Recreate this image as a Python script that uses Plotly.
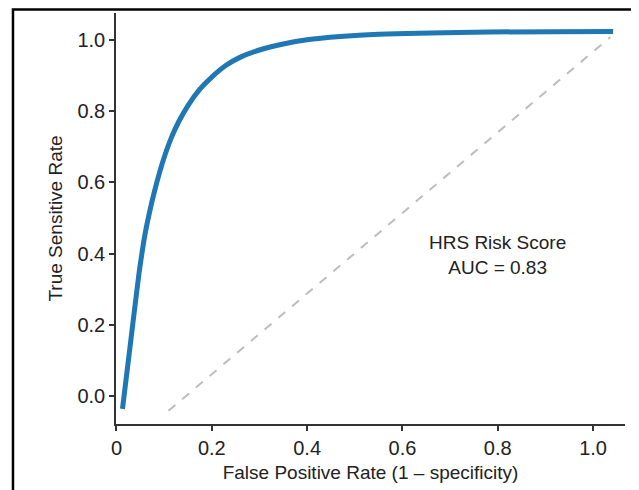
import plotly.graph_objects as go

# ROC curve
fpr = [0.0126, 0.03, 0.045, 0.05, 0.06, 0.07, 0.08, 0.09, 0.10, 0.115, 0.13, 0.15,
       0.175, 0.20, 0.23, 0.26, 0.30, 0.35, 0.40, 0.47, 0.55, 0.75, 1.042]
tpr = [-0.0365, 0.155, 0.32, 0.37, 0.455, 0.52, 0.576, 0.626, 0.670, 0.725, 0.769, 0.816,
       0.862, 0.896, 0.929, 0.952, 0.972, 0.989, 1.001, 1.010, 1.016, 1.022, 1.024]

# chance (diagonal) reference line
diag_x = [0.109, 1.036]
diag_y = [-0.042, 1.008]

x_tickvals = [0, 0.2, 0.4, 0.6, 0.8, 1.0]
x_ticktext = ["0", "0.2", "0.4", "0.6", "0.8", "1.0"]
y_tickvals = [0, 0.2, 0.4, 0.6, 0.8, 1.0]
y_ticktext = ["0.0", "0.2", "0.4", "0.6", "0.8", "1.0"]

label_text = "HRS Risk Score<br>AUC = 0.83"
label_pos = (0.80, 0.395)

FONT = "Liberation Sans, Arial, sans-serif"

fig = go.Figure()
fig.add_trace(go.Scatter(x=diag_x, y=diag_y, mode="lines",
                         line=dict(color="#bdbdbd", width=2, dash="dash"),
                         hoverinfo="skip", showlegend=False))
fig.add_trace(go.Scatter(x=fpr, y=tpr, mode="lines",
                         line=dict(color="#1f77b4", width=5, shape="spline", smoothing=1.0),
                         showlegend=False))

fig.add_annotation(x=label_pos[0], y=label_pos[1], xref="x", yref="y",
                   text=label_text, showarrow=False, align="center",
                   font=dict(family=FONT, size=19, color="#222222"))

# outer frame around the figure
fig.add_shape(type="rect", xref="paper", yref="paper",
              x0=-0.2024, x1=1.0196, y0=-0.17, y1=1.0085,
              line=dict(color="black", width=2.5), fillcolor="rgba(0,0,0,0)",
              layer="below")

axis_common = dict(showgrid=False, zeroline=False, showline=True, linecolor="#333333",
                   linewidth=1.5, ticks="outside", ticklen=5, tickwidth=1.5,
                   tickcolor="#333333", mirror=False,
                   tickfont=dict(family=FONT, size=20, color="#222222"))

fig.update_xaxes(range=[-0.001, 1.067], tickvals=x_tickvals, ticktext=x_ticktext,
                 title=dict(text="False Positive Rate (1 – specificity)",
                            font=dict(family=FONT, size=19, color="#222222"), standoff=8),
                 **axis_common)
fig.update_yaxes(range=[-0.079, 1.076], tickvals=y_tickvals, ticktext=y_ticktext,
                 title=dict(text="True Sensitive Rate",
                            font=dict(family=FONT, size=19, color="#222222"), standoff=10),
                 **axis_common)

fig.update_layout(width=631, height=482, margin=dict(l=108, r=14, t=5, b=66),
                  plot_bgcolor="white", paper_bgcolor="white",
                  font=dict(family=FONT))

fig.write_html("out.html")
